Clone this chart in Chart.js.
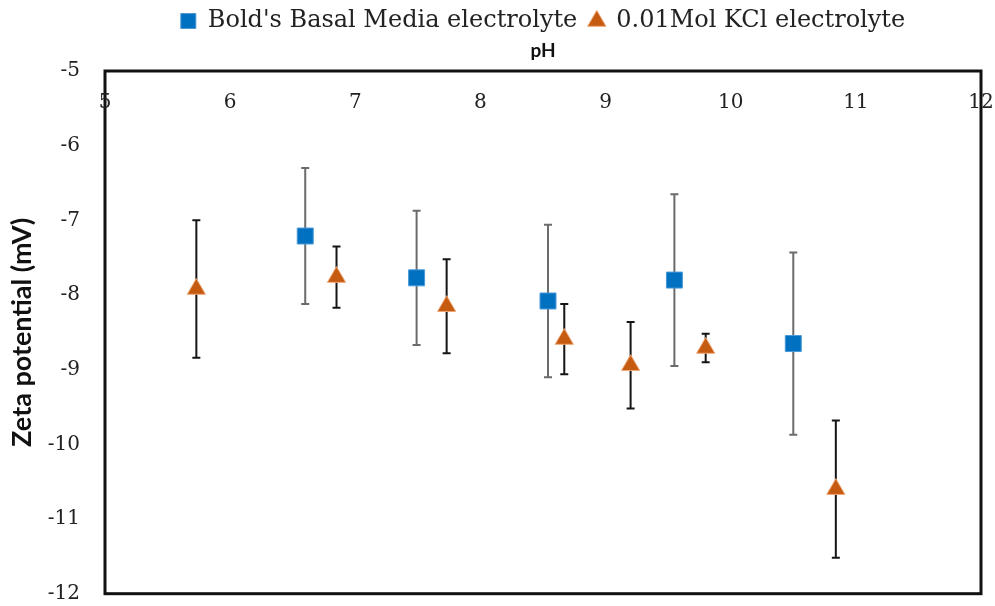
<!DOCTYPE html>
<html>
<head>
<meta charset="utf-8">
<script src="https://cdn.jsdelivr.net/npm/chart.js@4.4.1/dist/chart.umd.min.js"></script>
<style>
  html, body { margin: 0; padding: 0; background: #fff; overflow: hidden; }
  canvas { display: block; }
</style>
</head>
<body>
<canvas id="zeta" width="995" height="606"></canvas>
<script>
// --- data ---
const bbmPH    = [6.60, 7.49, 8.54, 9.55, 10.50];
const bbmZeta  = [-7.21, -7.77, -8.08, -7.80, -8.65];
const bbmErr   = [0.91, 0.90, 1.02, 1.15, 1.22];

const kclPH    = [5.73, 6.85, 7.73, 8.67, 9.20, 9.80, 10.84];
const kclZeta  = [-7.92, -7.76, -8.15, -8.59, -8.94, -8.71, -10.60];
const kclErr   = [0.92, 0.41, 0.63, 0.47, 0.58, 0.19, 0.92];

const xTicks = [5, 6, 7, 8, 9, 10, 11, 12];
const yTicks = [-5, -6, -7, -8, -9, -10, -11, -12];

const serif = "'DejaVu Serif', 'Liberation Serif', serif";
const sans = "Lato, 'Liberation Sans', sans-serif";

function toPoints(xs, ys) {
  return xs.map((x, i) => ({ x, y: ys[i] }));
}

// frame + error bars, drawn under the markers
const errorBars = {
  id: 'errorBars',
  beforeDatasetsDraw(chart) {
    const { ctx, chartArea: a, scales: { x, y } } = chart;
    ctx.save();
    ctx.strokeStyle = '#111';
    ctx.lineWidth = 3;
    ctx.strokeRect(a.left, a.top, a.right - a.left, a.bottom - a.top);

    const sets = [
      { xs: bbmPH, ys: bbmZeta, err: bbmErr, color: '#6b6b6b' },
      { xs: kclPH, ys: kclZeta, err: kclErr, color: '#151515' }
    ];
    ctx.lineWidth = 2;
    sets.forEach(s => {
      ctx.strokeStyle = s.color;
      s.xs.forEach((v, i) => {
        const px = x.getPixelForValue(v);
        const top = y.getPixelForValue(s.ys[i] + s.err[i]);
        const bot = y.getPixelForValue(s.ys[i] - s.err[i]);
        ctx.beginPath();
        ctx.moveTo(px, top); ctx.lineTo(px, bot);
        ctx.moveTo(px - 4, top); ctx.lineTo(px + 4, top);
        ctx.moveTo(px - 4, bot); ctx.lineTo(px + 4, bot);
        ctx.stroke();
      });
    });
    ctx.restore();
  },
  // x tick labels sit inside the plot, just under the top border
  afterDraw(chart) {
    const { ctx, chartArea: a, scales: { x } } = chart;
    ctx.save();
    ctx.font = '20px ' + serif;
    ctx.fillStyle = '#222';
    ctx.textAlign = 'center';
    ctx.textBaseline = 'middle';
    x.ticks.forEach(t => {
      ctx.fillText(String(t.value), x.getPixelForValue(t.value), a.top + 32);
    });
    ctx.restore();
  }
};

new Chart(document.getElementById('zeta'), {
  type: 'scatter',
  data: {
    datasets: [
      {
        label: "Bold's Basal Media electrolyte",
        data: toPoints(bbmPH, bbmZeta),
        pointStyle: 'rect',
        pointRadius: 11.3,
        pointHoverRadius: 11.3,
        backgroundColor: '#0070C0',
        borderColor: '#4a9ad8',
        borderWidth: 1
      },
      {
        label: '0.01Mol KCl electrolyte',
        data: toPoints(kclPH, kclZeta),
        pointStyle: 'triangle',
        pointRadius: 10.5,
        pointHoverRadius: 10.5,
        backgroundColor: '#C55A11',
        borderColor: '#f0a878',
        borderWidth: 1
      }
    ]
  },
  options: {
    responsive: false,
    animation: false,
    layout: { padding: { left: 0, right: 14, top: -3, bottom: 12 } },
    plugins: {
      legend: {
        position: 'top',
        fullSize: false,
        labels: {
          usePointStyle: true,
          boxWidth: 15,
          boxHeight: 15,
          padding: 12,
          color: '#222',
          font: { family: serif, size: 24, lineHeight: 1 }
        }
      },
      tooltip: { enabled: false }
    },
    scales: {
      x: {
        type: 'linear',
        position: 'top',
        min: 5,
        max: 12,
        afterBuildTicks(scale) { scale.ticks = xTicks.map(v => ({ value: v })); },
        ticks: { display: false },
        grid: { display: false, drawTicks: false },
        border: { display: false },
        title: {
          display: true,
          text: 'pH',
          color: '#111',
          font: { family: sans, size: 19, weight: 'bold' },
          padding: { top: -4, bottom: 0 }
        },
        afterFit(scale) { scale.height = 28; }
      },
      y: {
        min: -12,
        max: -5,
        afterBuildTicks(scale) { scale.ticks = yTicks.map(v => ({ value: v })); },
        ticks: {
          padding: 0,
          color: '#222',
          font: { family: serif, size: 20 }
        },
        grid: {
          display: true,
          drawOnChartArea: false,
          drawTicks: true,
          tickLength: 25,
          color: 'rgba(0,0,0,0)'
        },
        border: { display: false },
        title: {
          display: true,
          text: 'Zeta potential (mV)',
          color: '#111',
          font: { family: sans, size: 27, weight: 'bold' },
          padding: { top: 6, bottom: 2 }
        },
        afterFit(scale) { scale.width = 105; }
      }
    }
  },
  plugins: [errorBars]
});
</script>
</body>
</html>
